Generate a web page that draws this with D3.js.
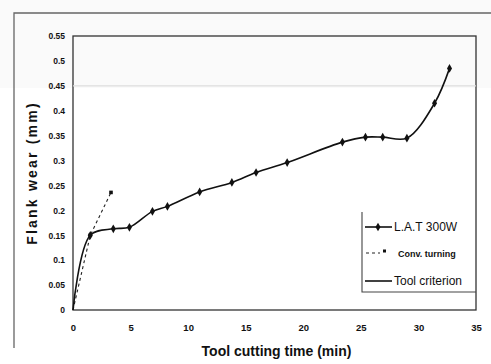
<!DOCTYPE html>
<html>
<head>
<meta charset="utf-8">
<script src="https://cdn.jsdelivr.net/npm/d3@7"></script>
<style>
  body { margin: 0; background: #fff; }
  svg { display: block; }
  text { font-family: "Liberation Sans Narrow", "Liberation Sans", Arial, sans-serif; font-weight: bold; fill: #111; }
</style>
</head>
<body>
<div class="chart"></div>
<script>
// time (min) and flank wear (mm)
const latTime = [0, 1.5, 3.5, 4.9, 6.9, 8.2, 11, 13.8, 15.9, 18.6, 23.4, 25.4, 26.9, 29, 31.4, 32.7];
const latWear = [0, 0.15, 0.163, 0.166, 0.198, 0.208, 0.237, 0.256, 0.276, 0.296, 0.337, 0.347, 0.347, 0.345, 0.415, 0.485];
const convTime = [0, 1.5, 3.3];
const convWear = [0, 0.15, 0.236];
const criterionWear = 0.45;

const xTicks = [0, 5, 10, 15, 20, 25, 30, 35];
const yTicks = [0, 0.05, 0.1, 0.15, 0.2, 0.25, 0.3, 0.35, 0.4, 0.45, 0.5, 0.55];
const yTickLabels = ['0', '0.05', '0.1', '0.15', '0.2', '0.25', '0.3', '0.35', '0.4', '0.45', '0.5', '0.55'];
const legendLabels = ['L.A.T 300W', 'Conv. turning', 'Tool criterion'];

const W = 491, H = 364;
const margin = { top: 36, right: 15, bottom: 54, left: 73 };

const svg = d3.select('.chart').append('svg')
  .attr('width', W)
  .attr('height', H);

// scanned page frame
svg.append('rect').attr('x', 0).attr('y', 0).attr('width', W).attr('height', 88).attr('fill', '#fafafa');
svg.append('path')
  .attr('d', `M14,${H - 16}V13H${W}`)
  .attr('fill', 'none').attr('stroke', '#666').attr('stroke-width', 1.3);

const x = d3.scaleLinear().domain([0, 35]).range([margin.left, W - margin.right]);
const y = d3.scaleLinear().domain([0, 0.55]).range([H - margin.bottom, margin.top]);

// plot box
svg.append('rect')
  .attr('x', x(0)).attr('y', y(0.55))
  .attr('width', x(35) - x(0)).attr('height', y(0) - y(0.55))
  .attr('fill', 'none').attr('stroke', '#333').attr('stroke-width', 1.3);

const xAxis = svg.append('g')
  .attr('transform', `translate(0,${y(0)})`)
  .call(d3.axisBottom(x).tickValues(xTicks).tickSize(0).tickPadding(14));
xAxis.select('.domain').remove();
xAxis.selectAll('text').style('font-size', '9.5px').style('font-family', null);

const yAxis = svg.append('g')
  .attr('transform', `translate(${x(0)},0)`)
  .call(d3.axisLeft(y).tickValues(yTicks).tickSize(0).tickPadding(8)
    .tickFormat((d, i) => yTickLabels[i]));
yAxis.select('.domain').remove();
yAxis.selectAll('text').style('font-size', '8.5px').style('font-family', null);

// axis titles
svg.append('text')
  .attr('x', (x(0) + x(35)) / 2 + 2)
  .attr('y', 356)
  .attr('text-anchor', 'middle')
  .style('font-size', '14px')
  .text('Tool cutting time (min)');

svg.append('text')
  .attr('transform', `translate(37,${(y(0) + y(0.55)) / 2}) rotate(-90)`)
  .attr('text-anchor', 'middle')
  .style('font-size', '14px')
  .style('letter-spacing', '2.2px')
  .text('Flank wear (mm)');

// tool criterion
svg.append('line')
  .attr('x1', x(0)).attr('x2', x(35))
  .attr('y1', y(criterionWear)).attr('y2', y(criterionWear))
  .attr('stroke', '#ddd').attr('stroke-width', 1.3);

const latData = latTime.map((t, i) => ({ t, w: latWear[i] }));
const convData = convTime.map((t, i) => ({ t, w: convWear[i] }));

const line = d3.line()
  .x(d => x(d.t))
  .y(d => y(d.w))
  .curve(d3.curveCatmullRom.alpha(0.5));

svg.append('path')
  .datum(convData)
  .attr('d', d3.line().x(d => x(d.t)).y(d => y(d.w)))
  .attr('fill', 'none').attr('stroke', '#222').attr('stroke-width', 1.1)
  .attr('stroke-dasharray', '3,3');

svg.selectAll('.conv')
  .data(convData.slice(1))
  .enter().append('rect')
  .attr('class', 'conv')
  .attr('x', d => x(d.t) - 1.8).attr('y', d => y(d.w) - 1.8)
  .attr('width', 3.6).attr('height', 3.6)
  .attr('fill', '#111');

svg.append('path')
  .datum(latData)
  .attr('d', line)
  .attr('fill', 'none').attr('stroke', '#111').attr('stroke-width', 1.6);

const diamond = d3.symbol().type(d3.symbolDiamond).size(22);
svg.selectAll('.lat')
  .data(latData.slice(1))
  .enter().append('path')
  .attr('class', 'lat')
  .attr('transform', d => `translate(${x(d.t)},${y(d.w)})`)
  .attr('d', diamond)
  .attr('fill', '#111');

// legend
const lx = 362, ly = 212;
svg.append('path')
  .attr('d', `M${lx},${ly}V292H${x(35)}`)
  .attr('fill', 'none').attr('stroke', '#444').attr('stroke-width', 1.1);

const legendY = [227, 253, 281];
legendLabels.forEach((label, i) => {
  const g = svg.append('g');
  if (i === 0) {
    g.append('line').attr('x1', 365).attr('x2', 392).attr('y1', legendY[i]).attr('y2', legendY[i])
      .attr('stroke', '#111').attr('stroke-width', 1.6);
    g.append('path').attr('transform', `translate(378,${legendY[i]})`).attr('d', diamond).attr('fill', '#111');
  } else if (i === 1) {
    g.append('line').attr('x1', 366).attr('x2', 380).attr('y1', legendY[i]).attr('y2', legendY[i])
      .attr('stroke', '#222').attr('stroke-width', 1.1).attr('stroke-dasharray', '3,3');
    g.append('rect').attr('x', 383).attr('y', legendY[i] - 3.5).attr('width', 3).attr('height', 3).attr('fill', '#111');
  } else {
    g.append('line').attr('x1', 365).attr('x2', 392).attr('y1', legendY[i]).attr('y2', legendY[i])
      .attr('stroke', '#111').attr('stroke-width', 1.6);
  }
  g.append('text')
    .attr('x', i === 1 ? 398 : 394)
    .attr('y', legendY[i] + 4)
    .style('font-size', i === 1 ? '9px' : '12px')
    .style('font-weight', i === 1 ? 'bold' : 'normal')
    .text(label);
});
</script>
</body>
</html>
